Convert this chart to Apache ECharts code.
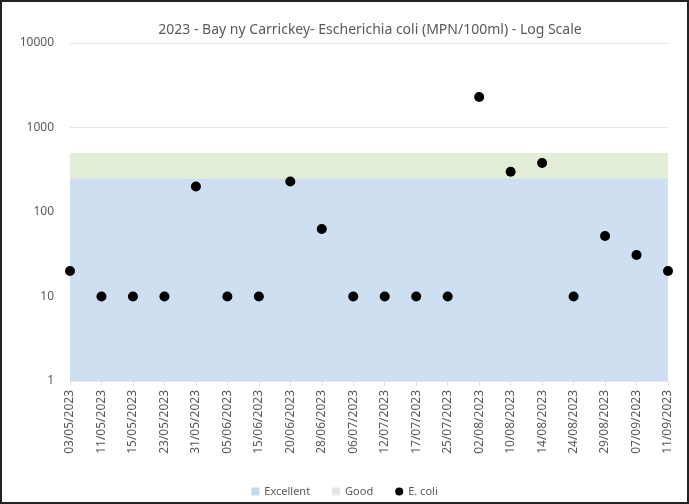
<!DOCTYPE html>
<html>
<head>
<meta charset="utf-8">
<title>Bay ny Carrickey E. coli 2023</title>
<script src="https://cdn.jsdelivr.net/npm/echarts@6/dist/echarts.min.js"></script>
<style>
    html, body { margin: 0; padding: 0; background: #fff; }
    #chart {
        width: 689px;
        height: 504px;
        box-sizing: border-box;
        border: 2px solid #222;
    }
</style>
</head>
<body>
<div id="chart"></div>
<script>
// sample dates
const dates = ['03/05/2023', '11/05/2023', '15/05/2023', '23/05/2023', '31/05/2023',
    '05/06/2023', '15/06/2023', '20/06/2023', '28/06/2023', '06/07/2023',
    '12/07/2023', '17/07/2023', '25/07/2023', '02/08/2023', '10/08/2023',
    '14/08/2023', '24/08/2023', '29/08/2023', '07/09/2023', '11/09/2023'];
// E. coli (MPN/100ml)
const ecoli = [20, 10, 10, 10, 200, 10, 10, 230, 63, 10, 10, 10, 10, 2300, 300, 380, 10, 52, 31, 20];
// classification limits
const excellentLimit = 250;
const goodLimit = 500;

const textColor = '#595959';
const font = 'Noto Sans';

const chart = echarts.init(document.getElementById('chart'));
chart.setOption({
    animation: false,
    textStyle: { fontFamily: font },
    title: {
        text: '2023 - Bay ny Carrickey- Escherichia coli (MPN/100ml) - Log Scale',
        left: 363,
        textAlign: 'center',
        top: 16,
        textStyle: { fontSize: 14, fontWeight: 'normal', color: textColor, fontFamily: font }
    },
    legend: {
        bottom: 0,
        left: 'center',
        itemWidth: 8,
        itemHeight: 8,
        itemGap: 22,
        textStyle: { fontSize: 11, color: textColor },
        data: [
            { name: 'Excellent', icon: 'rect' },
            { name: 'Good', icon: 'rect' },
            { name: 'E. coli', icon: 'circle' }
        ]
    },
    grid: { left: 68, right: 19, top: 41, bottom: 121 },
    xAxis: {
        type: 'category',
        data: dates,
        boundaryGap: false,
        axisLine: { show: false },
        axisTick: { show: true, alignWithLabel: true, lineStyle: { color: '#e0e0e0' } },
        axisLabel: { rotate: 90, interval: 0, fontSize: 12, color: textColor, margin: 9 }
    },
    yAxis: {
        type: 'log',
        logBase: 10,
        min: 1,
        max: 10000,
        axisLine: { show: false },
        axisTick: { show: false },
        axisLabel: { fontSize: 12, color: textColor, margin: 16, formatter: v => String(v) },
        splitLine: { lineStyle: { color: '#e6e6e6' } }
    },
    series: [
        {
            name: 'Excellent',
            type: 'line',
            data: [],
            itemStyle: { color: '#c5d9ef' },
            markArea: {
                silent: true,
                itemStyle: { color: '#cddff1' },
                data: [[{ yAxis: 1 }, { yAxis: excellentLimit }]]
            }
        },
        {
            name: 'Good',
            type: 'line',
            data: [],
            itemStyle: { color: '#e6e6e6' },
            markArea: {
                silent: true,
                itemStyle: { color: '#e2eed8' },
                data: [[{ yAxis: excellentLimit }, { yAxis: goodLimit }]]
            }
        },
        {
            name: 'E. coli',
            type: 'scatter',
            data: ecoli,
            symbolSize: 10,
            itemStyle: { color: '#000', opacity: 1 },
            z: 5
        }
    ]
});
</script>
</body>
</html>
